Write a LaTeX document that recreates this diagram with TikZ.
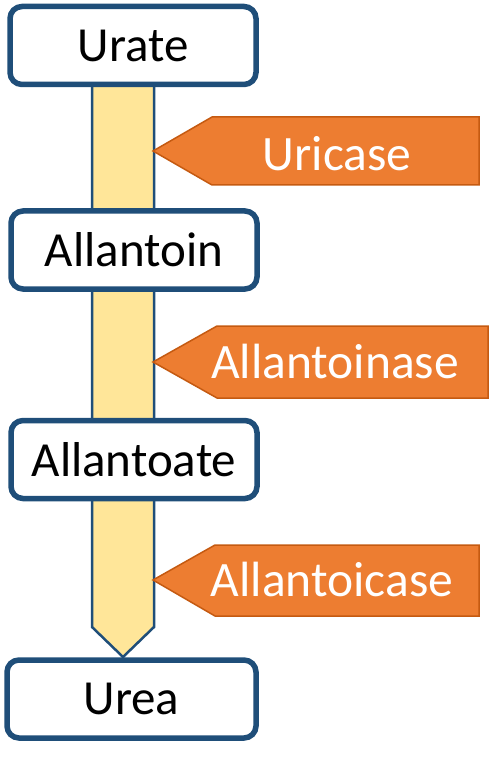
\documentclass[tikz,border=0pt]{standalone}
\usepackage{fontspec}
\setmainfont{Carlito}
\usetikzlibrary{backgrounds}
\definecolor{boxblue}{HTML}{1F4E79}
\definecolor{baryellow}{HTML}{FFE699}
\definecolor{enzorange}{HTML}{ED7D31}
\definecolor{enzedge}{HTML}{C55A11}
\tikzset{
  metab/.style={draw=boxblue, line width=5.5pt, fill=white, rounded corners=12pt,
    minimum width=246pt, minimum height=78pt, inner sep=0pt,
    font=\fontsize{49}{54}\selectfont, text=black},
  enzshape/.style={fill=enzorange, draw=enzedge, line width=1.5pt, line join=miter},
  enztext/.style={font=\fontsize{49.5}{54}\selectfont, text=white, inner sep=0pt},
  barstyle/.style={fill=baryellow, draw=boxblue, line width=2.5pt, line join=miter}
}
\begin{document}
\begin{tikzpicture}[x=1pt,y=-1pt]
\useasboundingbox (0,0) rectangle (491,759);
% metabolite boxes
\node[metab] (urate) at (133,45.5) {Urate};
\node[metab] (allantoin) at (134,250) {Allantoin};
\node[metab] (allantoate) at (134,459.5) {Allantoate};
\node[metab, minimum width=249pt] (urea) at (131.5,699) {Urea};
% bar geometry
\coordinate (barL) at (92,0);
\coordinate (barR) at (154,0);
\coordinate (tip) at (123,657);
\begin{pgfonlayer}{background}
  \draw[barstyle] (barL |- urate.center) -- (barL |- 0,627) -- (tip)
     -- (barR |- 0,627) -- (barR |- urate.center) -- cycle;
\end{pgfonlayer}
% enzyme callouts
\coordinate (t1) at (153,151);
\coordinate (t2) at (153,362);
\coordinate (t3) at (153,580);
\path (212,117) coordinate (u1) (479,185) coordinate (u2);
\path (217,326) coordinate (a1) (488,398) coordinate (a2);
\path (215,545) coordinate (c1) (479,616) coordinate (c2);
\draw[enzshape] (u1) -- (u1 -| u2) -- (u2) -- (u2 -| u1) -- (t1) -- cycle;
\draw[enzshape] (a1) -- (a1 -| a2) -- (a2) -- (a2 -| a1) -- (t2) -- cycle;
\draw[enzshape] (c1) -- (c1 -| c2) -- (c2) -- (c2 -| c1) -- (t3) -- cycle;
\node[enztext] (uricase) at (337,154) {Uricase};
\node[enztext] (allantoinase) at (335,361) {Allantoinase};
\node[enztext] (allantoicase) at (332,579) {Allantoicase};
\end{tikzpicture}
\end{document}
